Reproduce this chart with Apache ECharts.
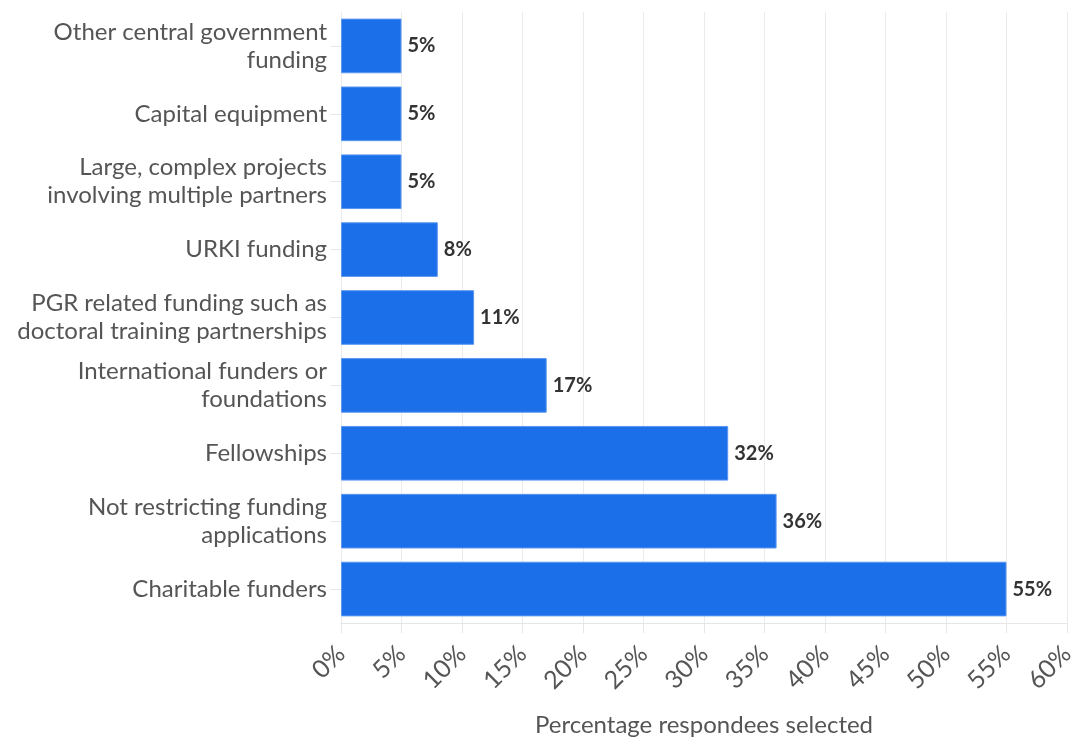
<!DOCTYPE html>
<html><head><meta charset="utf-8">
<script src="https://cdn.jsdelivr.net/npm/echarts@6/dist/echarts.min.js"></script>
<style>html,body{margin:0;padding:0;background:#fff;overflow:hidden}#c{width:1083px;height:742px}</style>
</head><body><div id="c"></div>
<script>
const categories = [
  "Other central government\nfunding",
  "Capital equipment",
  "Large, complex projects\ninvolving multiple partners",
  "URKI funding",
  "PGR related funding such as\ndoctoral training partnerships",
  "International funders or\nfoundations",
  "Fellowships",
  "Not restricting funding\napplications",
  "Charitable funders"
];
const values = [5, 5, 5, 8, 11, 17, 32, 36, 55];
const axisTitle = "Percentage respondees selected";
const FONT = "Lato";
const chart = echarts.init(document.getElementById('c'), null, {renderer: 'canvas'});
chart.setOption({
  animation: false,
  grid: {left: 341, right: 16, top: 12, bottom: 104, containLabel: false},
  xAxis: {
    type: 'value', min: 0, max: 60, interval: 5,
    name: axisTitle, nameLocation: 'middle', nameGap: 90,
    nameTextStyle: {fontFamily: FONT, fontSize: 24, color: '#555'},
    axisLine: {show: true, lineStyle: {color: '#e6e6e6', width: 1}},
    axisTick: {show: true, length: 10, lineStyle: {color: '#e6e6e6'}},
    splitLine: {show: true, lineStyle: {color: '#ebebeb', width: 1}},
    axisLabel: {formatter: '{value}%', rotate: 45, fontFamily: FONT, fontSize: 25, color: '#555', margin: 27}
  },
  yAxis: {
    type: 'category', data: categories, inverse: true,
    axisLine: {show: false},
    axisTick: {show: true, alignWithLabel: true, length: 10, lineStyle: {color: '#e6e6e6'}},
    axisLabel: {fontFamily: FONT, fontSize: 24, color: '#555', lineHeight: 28, margin: 14}
  },
  series: [{
    type: 'bar', data: values, barCategoryGap: '19.5%',
    itemStyle: {color: '#1b70e9', borderColor: '#5b97f0', borderWidth: 1},
    label: {show: true, position: 'right', distance: 6, formatter: '{c}%', fontFamily: FONT, fontSize: 20, fontWeight: 'bold', color: '#333'}
  }]
});
</script></body></html>
